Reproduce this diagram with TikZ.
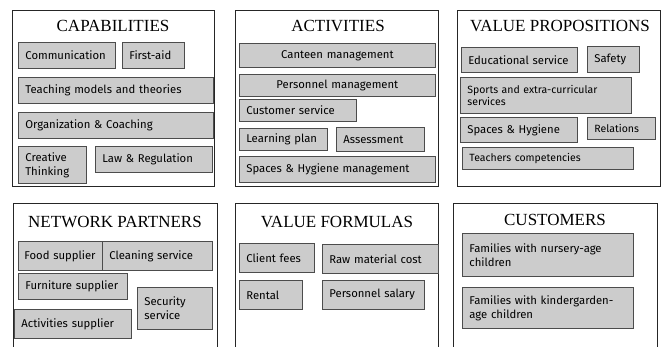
\documentclass[tikz,border=0pt]{standalone}
\usepackage{fontspec}
\setmainfont{Liberation Serif}
\newfontfamily\boxfont{Fira Sans}
\usetikzlibrary{positioning}
\hyphenpenalty=10000

\begin{document}
\begin{tikzpicture}[x=1pt, y=-1pt,
        panel/.style={draw=black!85, line width=0.8pt},
        title/.style={font=\fontsize{17}{17}\selectfont},
        item/.style={draw=black!70, fill=black!20, line width=0.8pt, anchor=north west, inner xsep=7pt, inner ysep=0pt, align=left, font=\boxfont\fontsize{11.3}{14}\selectfont},
        small/.style={font=\boxfont\fontsize{10.5}{12}\selectfont}
    ]
        \useasboundingbox (0,0) rectangle (662,347);

        % Capabilities
        \draw[panel] (12,10) rectangle (214,186);
        \node[title] (capTitle) at (113,26) {CAPABILITIES};
        \node[item, text width=83pt, minimum height=26pt] (comm) at (18,42) {Communication};
        \node[item, text width=48pt, minimum height=26pt] (firstAid) at (122,42) {First-aid};
        \node[item, text width=181pt, minimum height=26pt] (teaching) at (18,77) {Teaching models and theories};
        \node[item, text width=181pt, minimum height=26pt] (coaching) at (18,112) {Organization \& Coaching};
        \node[item, text width=54pt, minimum height=37pt] (creative) at (18,146) {Creative\\Thinking};
        \node[item, text width=103pt, minimum height=26pt] (law) at (95,146) {Law \& Regulation};

        % Activities
        \draw[panel] (235,10) rectangle (438,186);
        \node[title] (actTitle) at (338,26) {ACTIVITIES};
        \node[item, align=center, text width=182pt, minimum height=24pt] (canteen) at (239,43) {Canteen management};
        \node[item, align=center, text width=182pt, minimum height=22pt] (personnel) at (239,74) {Personnel management};
        \node[item, text width=103pt, minimum height=22pt] (customer) at (239,99) {Customer service};
        \node[item, text width=74pt, minimum height=22pt] (learning) at (239,128) {Learning plan};
        \node[item, text width=74pt, minimum height=24pt] (assessment) at (336,127) {Assessment};
        \node[item, text width=182pt, minimum height=26pt] (spacesMgmt) at (239,156) {Spaces \& Hygiene management};

        % Value propositions
        \draw[panel] (457,10) rectangle (660,186);
        \node[title] (vpTitle) at (560,26) {VALUE PROPOSITIONS};
        \node[item, text width=102pt, minimum height=25pt] (educational) at (461,47) {Educational service};
        \node[item, text width=38pt, minimum height=26pt] (safety) at (587,46) {Safety};
        \node[item, small, text width=157pt, minimum height=36pt] (sports) at (460,77) {Sports and extra-curricular\\services};
        \node[item, text width=103pt, minimum height=25pt] (spaces) at (460,117) {Spaces \& Hygiene};
        \node[item, small, text width=54pt, minimum height=22pt] (relations) at (587,117) {Relations};
        \node[item, small, text width=157pt, minimum height=22pt] (teachers) at (462,147) {Teachers competencies};

        % Network partners
        \draw[panel] (13,203) rectangle (217,360);
        \node[title] (npTitle) at (115,222) {NETWORK PARTNERS};
        \node[item, inner xsep=6pt, text width=72pt, minimum height=29pt] (food) at (18,241) {Food supplier};
        \node[item, text width=96pt, minimum height=29pt] (cleaning) at (102,241) {Cleaning service};
        \node[item, text width=95pt, minimum height=26pt] (furniture) at (18,273) {Furniture supplier};
        \node[item, text width=61pt, minimum height=42pt] (security) at (137,287) {Security\\service};
        \node[item, text width=103pt, minimum height=29pt] (actSupplier) at (14,309) {Activities supplier};

        % Value formulas
        \draw[panel] (235,203) rectangle (438,360);
        \node[title] (vfTitle) at (337,222) {VALUE FORMULAS};
        \node[item, text width=61pt, minimum height=29pt] (fees) at (239,243) {Client fees};
        \node[item, text width=102pt, minimum height=29pt] (rawCost) at (322,244) {Raw material cost};
        \node[item, text width=49pt, minimum height=29pt] (rental) at (239,280) {Rental};
        \node[item, text width=88pt, minimum height=29pt] (salary) at (322,280) {Personnel salary};

        % Customers
        \draw[panel] (453,203) rectangle (657,360);
        \node[title] (custTitle) at (555,220) {CUSTOMERS};
        \node[item, text width=157pt, minimum height=43pt] (nursery) at (462,233) {Families with nursery-age\\children};
        \node[item, text width=157pt, minimum height=41pt] (kinder) at (462,287) {Families with kindergarden-\\age children};
    \end{tikzpicture}
\end{document}
